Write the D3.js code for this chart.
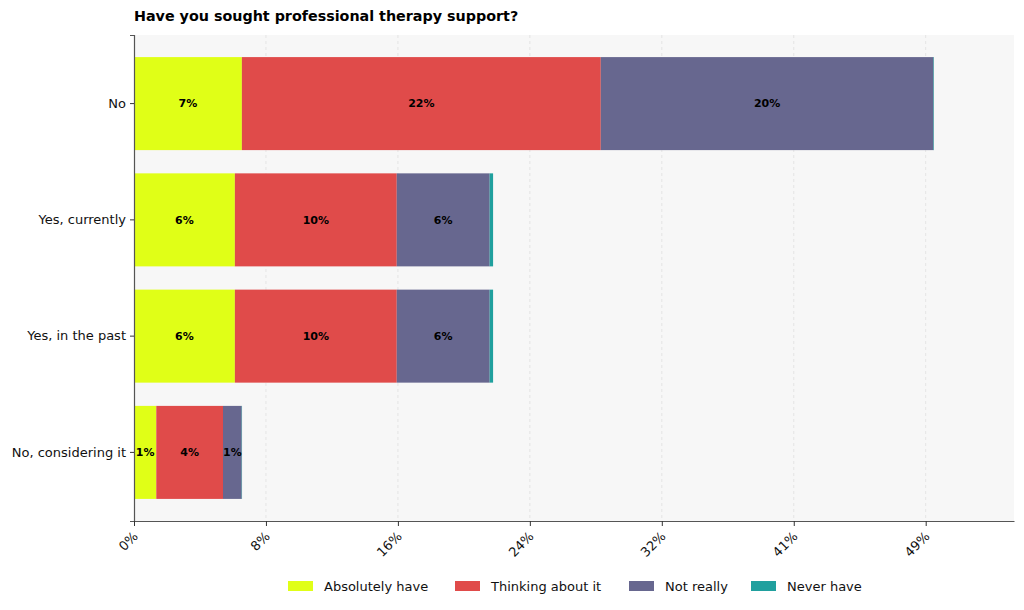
<!DOCTYPE html>
<html>
<head>
<meta charset="utf-8">
<script src="https://cdn.jsdelivr.net/npm/d3@7"></script>
<style>
  body { margin: 0; background: #fff; }
  svg { font-family: "DejaVu Sans", sans-serif; }
</style>
</head>
<body>
<div id="chart"></div>
<script>
// categories, top to bottom
const answers = ["No", "Yes, currently", "Yes, in the past", "No, considering it"];
const seriesNames = ["Absolutely have", "Thinking about it", "Not really", "Never have"];
const seriesColors = ["#e0ff17", "#e04b4a", "#67678f", "#20a09e"];

// percent of respondents, per answer
const absolutelyHave = [6.63, 6.20, 6.20, 1.37];
const thinkingAboutIt = [22.06, 9.95, 9.95, 4.10];
const notReally = [20.45, 5.71, 5.71, 1.15];
const neverHave = [0.03, 0.21, 0.21, 0.02];

const tickStep = 8.11;
const tickLabels = ["0%", "8%", "16%", "24%", "32%", "41%", "49%"];

const width = 1024, height = 610;
const margin = { top: 35, right: 10, bottom: 89, left: 134 };
const innerW = width - margin.left - margin.right;
const innerH = height - margin.top - margin.bottom;

const rows = answers.map((a, i) => ({
  answer: a,
  values: [absolutelyHave[i], thinkingAboutIt[i], notReally[i], neverHave[i]]
}));
const totals = rows.map(r => d3.sum(r.values));

const svg = d3.select("#chart").append("svg")
  .attr("width", width).attr("height", height);

svg.append("text")
  .attr("x", margin.left).attr("y", 21)
  .attr("font-size", 14.3).attr("font-weight", "bold")
  .text("Have you sought professional therapy support?");

const g = svg.append("g").attr("transform", `translate(${margin.left},${margin.top})`);

const x = d3.scaleLinear().domain([0, d3.max(totals) * 1.1]).range([0, innerW]);
const y = d3.scaleBand().domain(answers).range([0, innerH])
  .paddingInner(0.2).paddingOuter(0.19);

g.append("rect").attr("width", innerW).attr("height", innerH).attr("fill", "#f7f7f7");

const tickVals = tickLabels.map((d, i) => i * tickStep);

// grid
g.selectAll(".grid").data(tickVals.slice(1)).join("line")
  .attr("x1", d => x(d)).attr("x2", d => x(d))
  .attr("y1", 0).attr("y2", innerH)
  .attr("stroke", "#e0e0e0").attr("stroke-width", 0.8)
  .attr("stroke-dasharray", "3,3");

// stacked bars
rows.forEach(r => {
  let acc = 0;
  r.values.forEach((v, j) => {
    const x0 = acc;
    acc += v;
    g.append("rect")
      .attr("x", x(x0)).attr("y", y(r.answer))
      .attr("width", x(acc) - x(x0)).attr("height", y.bandwidth())
      .attr("fill", seriesColors[j]);
    if (v >= 1) {
      g.append("text")
        .attr("x", (x(x0) + x(acc)) / 2)
        .attr("y", y(r.answer) + y.bandwidth() / 2)
        .attr("dy", "0.35em").attr("text-anchor", "middle")
        .attr("font-size", 11).attr("font-weight", "bold")
        .text(Math.round(v) + "%");
    }
  });
});

// axes
const yAxis = g.append("g").call(d3.axisLeft(y).tickSize(4).tickPadding(4));
yAxis.select(".domain").attr("stroke", "#555").attr("stroke-width", 1.2);
yAxis.selectAll(".tick line").attr("stroke", "#333");
yAxis.selectAll(".tick text").attr("font-size", 13).attr("fill", "#111")
  .style("font-family", "DejaVu Sans, sans-serif");

const xAxis = g.append("g").attr("transform", `translate(0,${innerH})`)
  .call(d3.axisBottom(x).tickValues(tickVals).tickFormat((d, i) => tickLabels[i])
    .tickSize(5).tickSizeOuter(0));
xAxis.select(".domain").attr("stroke", "#555").attr("stroke-width", 1.2);
xAxis.selectAll(".tick line").attr("stroke", "#333");
xAxis.selectAll(".tick text")
  .attr("font-size", 13).attr("fill", "#111")
  .style("font-family", "DejaVu Sans, sans-serif")
  .attr("text-anchor", "end")
  .attr("x", 0).attr("y", 0).attr("dy", "0.35em")
  .attr("transform", "translate(1,13) rotate(-45)");

// legend
const legend = svg.append("g").attr("transform", "translate(288,581)");
const legendX = [0, 167, 341, 463];
seriesNames.forEach((name, i) => {
  const lg = legend.append("g").attr("transform", `translate(${legendX[i]},0)`);
  lg.append("rect").attr("width", 25).attr("height", 10).attr("fill", seriesColors[i]);
  lg.append("text").attr("x", 36).attr("y", 5).attr("dy", "0.35em")
    .attr("font-size", 13).attr("fill", "#111").text(name);
});
</script>
</body>
</html>
